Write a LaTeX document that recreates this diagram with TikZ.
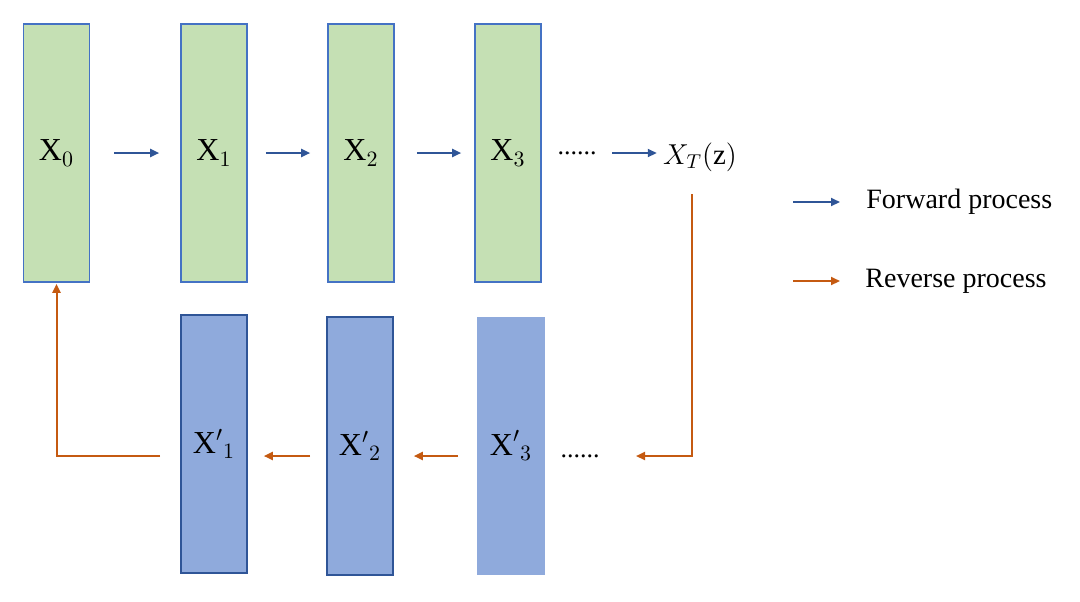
\documentclass[tikz,border=0pt]{standalone}
\usepackage{fontspec}
\setmainfont{Liberation Serif}
\usetikzlibrary{arrows.meta}
\definecolor{gfill}{HTML}{C5E0B4}
\definecolor{bfill}{HTML}{8FAADC}
\definecolor{bline}{HTML}{2F5597}
\definecolor{gline}{HTML}{4472C4}
\definecolor{orng}{HTML}{C55A11}
\tikzset{
  gbox/.style={draw=gline, line width=0.8pt, fill=gfill, minimum width=33pt, minimum height=129pt, inner sep=0pt, font=\fontsize{16}{18}\selectfont},
  bbox/.style={draw=bline, line width=0.8pt, fill=bfill, minimum width=33pt, minimum height=129pt, inner sep=0pt, font=\fontsize{16}{18}\selectfont},
  fwd/.style={draw=bline, line width=1pt, -{Triangle[length=4.5pt,width=4pt]}},
  rev/.style={draw=orng, line width=1pt, -{Triangle[length=4.5pt,width=4pt]}},
  dots/.style={inner sep=0pt, font=\fontsize{13}{15}\selectfont},
  legtext/.style={anchor=west, inner sep=0pt, font=\fontsize{14}{16}\selectfont}
}
\begin{document}
\begin{tikzpicture}[x=0.5pt,y=-0.5pt]
\useasboundingbox (0,0) rectangle (1080,601);
% top row
\node[gbox] (X0) at (56.5,153) {$\mathrm{X}_0$};
\node[gbox] (X1) at (214,153) {$\mathrm{X}_1$};
\node[gbox] (X2) at (361,153) {$\mathrm{X}_2$};
\node[gbox] (X3) at (508,153) {$\mathrm{X}_3$};
\node[dots] (d1) at (577,153) {......};
\node[inner sep=0pt, font=\fontsize{14.5}{17}\selectfont] (XT) at (700,157) {$X_T(\mathrm{z})$};
% bottom row
\node[bbox] (Y1) at (214,444) {$\mathrm{X'}_1$};
\node[bbox] (Y2) at (360,446) {$\mathrm{X'}_2$};
\node[bbox, draw=none, minimum width=34pt] (Y3) at (511,445.5) {$\mathrm{X'}_3$};
\node[dots] (d2) at (580,456) {......};
% forward arrows
\draw[fwd] ([xshift=12pt]X0.east) -- ([xshift=-10.5pt]X1.west);
\draw[fwd] ([xshift=9pt]X1.east) -- ([xshift=-8.5pt]X2.west);
\draw[fwd] ([xshift=11pt]X2.east) -- ([xshift=-6.5pt]X3.west);
\draw[fwd] (612,153) -- ([xshift=-3pt]XT.west |- 0,153);
% reverse path
\coordinate (r0) at (692,194);
\coordinate (r1) at (636,456);
\draw[rev] (r0) |- (r1);
\draw[rev] ([xshift=-9pt]Y3.west |- 0,456) -- ([xshift=10pt]Y2.east |- 0,456);
\draw[rev] ([xshift=-8pt]Y2.west |- 0,456) -- ([xshift=8pt]Y1.east |- 0,456);
\coordinate (r2) at (160,456);
\draw[rev] (r2) -| ([yshift=-0.5pt]X0.south);
% legend
\node[legtext] (lf) at (866,202) {Forward process};
\node[legtext] (lr) at (865,281) {Reverse process};
\coordinate (lf0) at (793,202);
\coordinate (lr0) at (793,281);
\draw[fwd] (lf0) -- ([xshift=-13pt]lf.west);
\draw[rev] (lr0) -- ([xshift=-12.5pt]lr.west);
\end{tikzpicture}
\end{document}
